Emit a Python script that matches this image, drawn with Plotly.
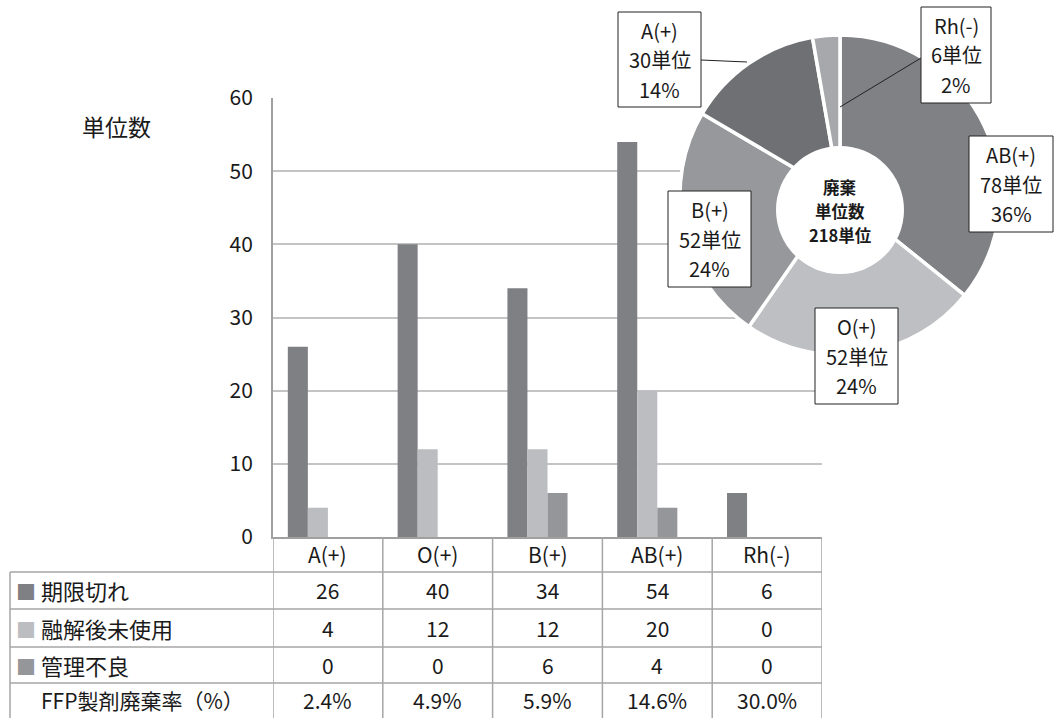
import plotly.graph_objects as go

# ---- data ----
groups = ["A(+)", "O(+)", "B(+)", "AB(+)", "Rh(-)"]
expired = [26, 40, 34, 54, 6]            # 期限切れ
unused_thawed = [4, 12, 12, 20, 0]       # 融解後未使用
mishandled = [0, 0, 6, 4, 0]             # 管理不良
discard_rate = [2.4, 4.9, 5.9, 14.6, 30.0]  # FFP製剤廃棄率(%)

series_names = ["期限切れ", "融解後未使用", "管理不良"]
series_values = [expired, unused_thawed, mishandled]
series_colors = ["#7f8084", "#bcbdc1", "#95969a"]

pie_order = ["AB(+)", "O(+)", "B(+)", "A(+)", "Rh(-)"]
pie_share_pct = [36, 24, 24, 14, 2]
pie_colors = ["#808185", "#bebfc3", "#97989c", "#6f7074", "#a7a8ac"]

y_ticks = [0, 10, 20, 30, 40, 50, 60]

# ---- helpers ----
W, H = 1055, 718
FONT = "Noto Sans CJK JP"
TXT = "#1a1a1a"
LINE = "#a6a6a6"


def px(x):
    return x / W


def py(y):
    return 1 - y / H


totals = {g: sum(s[i] for s in series_values) for i, g in enumerate(groups)}
pie_units = [totals[g] for g in pie_order]
grand_total = sum(pie_units)

fig = go.Figure()

# grouped bars (four slots per group, the three series fill the first three)
bw = 0.1825
for k, (name, vals, col) in enumerate(zip(series_names, series_values, series_colors)):
    fig.add_trace(go.Bar(
        x=groups, y=vals, name=name,
        width=bw, offset=-2 * bw + k * bw,
        marker=dict(color=col, line=dict(width=0)),
        showlegend=False, hoverinfo="skip",
    ))

# doughnut of discarded units by blood type
fig.add_trace(go.Pie(
    labels=pie_order, values=pie_units, sort=False,
    direction="clockwise", rotation=0,
    marker=dict(colors=pie_colors, line=dict(color="white", width=3.5)),
    textinfo="none", hoverinfo="skip", showlegend=False,
    domain=dict(x=[px(680), px(1000)], y=[py(355), py(35)]),
))

shapes = []
annotations = []

# white centre disc of the doughnut
shapes.append(dict(type="circle", xref="paper", yref="paper",
                   x0=px(776), x1=px(904), y0=py(274), y1=py(146),
                   fillcolor="white", line=dict(width=0), layer="above"))
centre_lines = ["廃棄", "単位数", f"{grand_total}単位"]
for line_txt, yy in zip(centre_lines, [187, 211, 235]):
    annotations.append(dict(
        xref="paper", yref="paper", x=px(840), y=py(yy),
        text=f"<b>{line_txt}</b>",
        showarrow=False, font=dict(family=FONT, size=16.5, color=TXT),
        xanchor="center", yanchor="middle", align="center"))

# leader lines for the small slices
for (x0, y0, x1, y1) in [(701, 60, 747, 62), (921, 58, 840, 107)]:
    shapes.append(dict(type="line", xref="paper", yref="paper",
                       x0=px(x0), y0=py(y0), x1=px(x1), y1=py(y1),
                       line=dict(color="#222222", width=1), layer="above"))

# slice label boxes (left, top, right, bottom)
label_boxes = {
    "AB(+)": (969, 136, 1053, 232),
    "O(+)": (815, 308, 898, 404),
    "B(+)": (668, 191, 751, 287),
    "A(+)": (618, 12, 701, 107),
    "Rh(-)": (921, 7, 991, 103),
}
for g, u, p in zip(pie_order, pie_units, pie_share_pct):
    x0, y0, x1, y1 = label_boxes[g]
    shapes.append(dict(type="rect", xref="paper", yref="paper",
                       x0=px(x0), x1=px(x1), y0=py(y1), y1=py(y0),
                       fillcolor="white", line=dict(color="#222222", width=1),
                       layer="above"))
    cx, cy = (x0 + x1) / 2, (y0 + y1) / 2
    for j, line_txt in enumerate([g, f"{u}単位", f"{p}%"]):
        annotations.append(dict(
            xref="paper", yref="paper", x=px(cx), y=py(cy + (j - 1) * 29.5),
            text=line_txt, showarrow=False,
            font=dict(family=FONT, size=20, color=TXT),
            xanchor="center", yanchor="middle"))

# ---- data table under the bars ----
row_y = [590, 628, 665, 700]
header_y = 554
cell_font = dict(family=FONT, size=21, color=TXT)
for i, g in enumerate(groups):
    annotations.append(dict(xref="x", yref="paper", x=i, y=py(header_y),
                            text=g, showarrow=False, font=cell_font,
                            xanchor="center", yanchor="middle"))
    for r, vals in enumerate(series_values):
        annotations.append(dict(xref="x", yref="paper", x=i, y=py(row_y[r]),
                                text=str(vals[i]), showarrow=False,
                                font=cell_font,
                                xanchor="center", yanchor="middle"))
    annotations.append(dict(xref="x", yref="paper", x=i, y=py(row_y[3]),
                            text=f"{discard_rate[i]:.1f}%", showarrow=False,
                            font=cell_font,
                            xanchor="center", yanchor="middle"))

for r, (name, col) in enumerate(zip(series_names, series_colors)):
    annotations.append(dict(
        xref="paper", yref="paper", x=px(14), y=py(row_y[r]),
        text=f"<span style='color:{col};font-size:20px'>■</span> {name}",
        showarrow=False,
        font=dict(family=FONT, size=22, color=TXT),
        xanchor="left", yanchor="middle"))
annotations.append(dict(
    xref="paper", yref="paper", x=px(39), y=py(row_y[3]),
    text="FFP製剤廃棄率（%）", showarrow=False,
    font=dict(family=FONT, size=21, color=TXT),
    xanchor="left", yanchor="middle"))

# table grid
for k in range(len(groups) + 1):
    shapes.append(dict(type="line", xref="x", yref="paper",
                       x0=k - 0.5, x1=k - 0.5, y0=py(537), y1=0,
                       line=dict(color=LINE, width=1.5)))
shapes.append(dict(type="line", xref="paper", yref="paper",
                   x0=px(10), x1=px(10), y0=py(572), y1=0,
                   line=dict(color=LINE, width=1.5)))
for yy in [572, 609, 647, 683]:
    shapes.append(dict(type="line", xref="paper", yref="paper",
                       x0=px(10), x1=px(822), y0=py(yy), y1=py(yy),
                       line=dict(color=LINE, width=1.5)))

# y axis title
annotations.append(dict(xref="paper", yref="paper", x=px(116), y=py(126),
                        text="単位数", showarrow=False,
                        font=dict(family=FONT, size=23, color=TXT),
                        xanchor="center", yanchor="middle"))

fig.update_layout(
    width=W, height=H, autosize=False,
    margin=dict(l=0, r=0, t=0, b=0, pad=0),
    paper_bgcolor="white", plot_bgcolor="white",
    barmode="overlay",
    font=dict(family=FONT, color=TXT),
    xaxis=dict(domain=[px(273), px(822)], range=[-0.5, len(groups) - 0.5],
               type="category", showticklabels=False, ticks="",
               showline=True, linecolor="#a0a0a0", linewidth=2,
               showgrid=False, zeroline=False, fixedrange=True,
               automargin=False),
    yaxis=dict(domain=[py(537), py(98)], range=[0, 60],
               tickvals=y_ticks, ticks="", ticklabelstandoff=14,
               tickfont=dict(family=FONT, size=21, color=TXT),
               showline=True, linecolor="#a0a0a0", linewidth=2,
               showgrid=True, gridcolor="#c4c4c4", gridwidth=1.5,
               zeroline=False, fixedrange=True, automargin=False),
    shapes=shapes,
    annotations=annotations,
)

fig.write_html("out.html")
